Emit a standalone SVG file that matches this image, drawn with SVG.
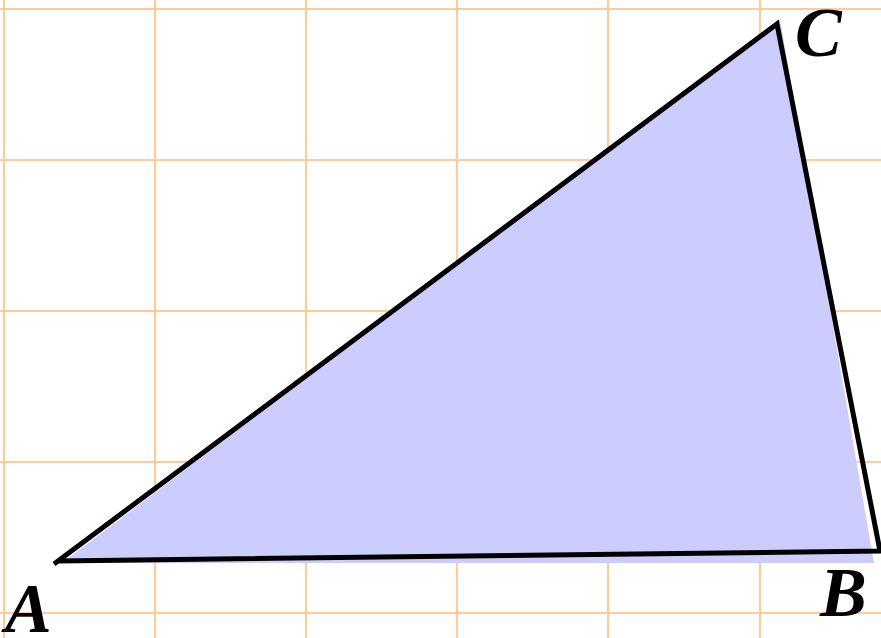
<svg xmlns="http://www.w3.org/2000/svg" width="881" height="638" viewBox="0 0 881 638">
<style>
.grid line{stroke:#FFCC99;stroke-width:2.2}
.lbl{font-family:"Liberation Serif","Times New Roman",serif;font-weight:bold;font-style:italic;font-size:70px;fill:#000}
</style>
<rect width="881" height="638" fill="#fff"/>
<g class="grid">
<line x1="4" y1="0" x2="4" y2="638"/>
<line x1="155" y1="0" x2="155" y2="638"/>
<line x1="306" y1="0" x2="306" y2="638"/>
<line x1="457" y1="0" x2="457" y2="638"/>
<line x1="608" y1="0" x2="608" y2="638"/>
<line x1="760" y1="0" x2="760" y2="638"/>
<line x1="0" y1="9" x2="881" y2="9"/>
<line x1="0" y1="160" x2="881" y2="160"/>
<line x1="0" y1="311" x2="881" y2="311"/>
<line x1="0" y1="462" x2="881" y2="462"/>
<line x1="0" y1="613" x2="881" y2="613"/>
</g>
<g id="fill">
<polygon points="62,563 874,563 780,19" fill="#CCCCFF"/>
</g>
<g id="edges" fill="none" stroke="#000" stroke-width="5">
<polyline points="54,564 777,24 880,551 58,561" stroke-linejoin="miter"/>
</g>
<g id="A"><text class="lbl" x="5" y="632">A</text></g>
<g id="B"><text class="lbl" x="820" y="616">B</text></g>
<g id="C"><text class="lbl" x="795" y="56">C</text></g>
</svg>
